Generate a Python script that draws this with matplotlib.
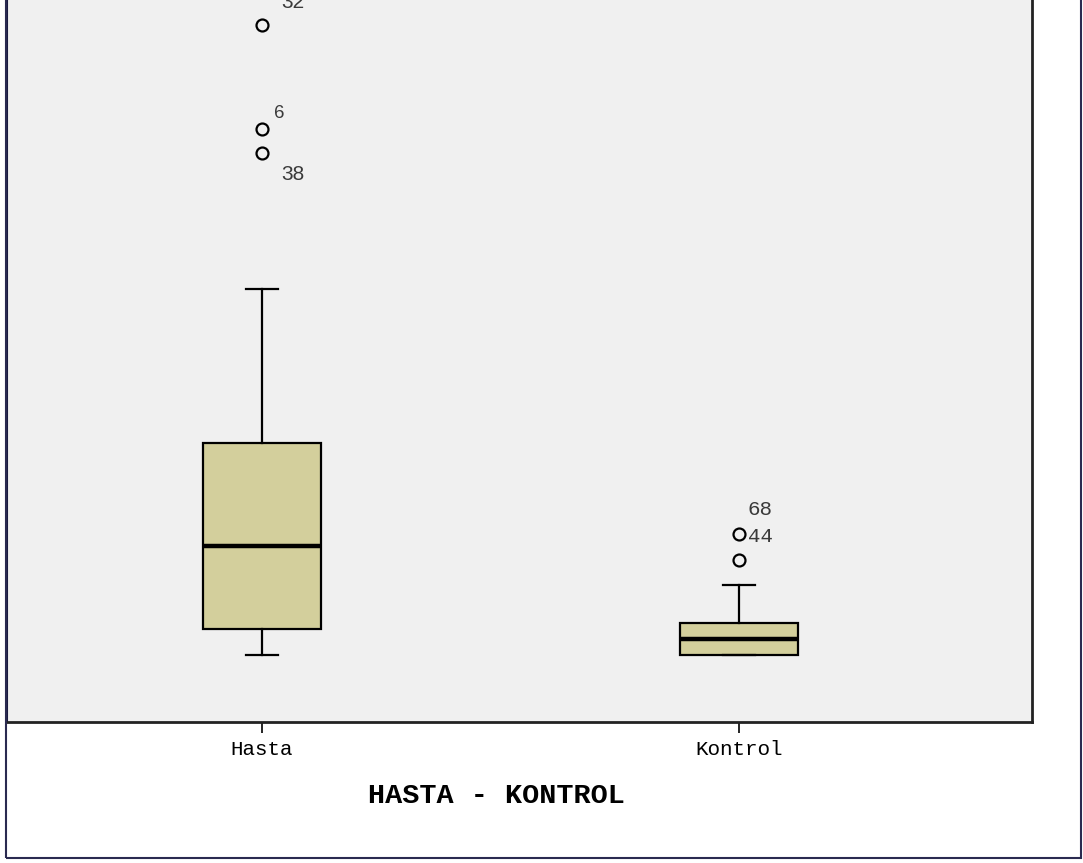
import matplotlib
matplotlib.use("Agg")
import matplotlib.pyplot as plt
from matplotlib.patches import Rectangle

# Data (arbitrary units)
categories = ["Hasta", "Kontrol"]
whislo = [6.7, 6.7]
q1 = [9.3, 6.7]
med = [17.6, 8.3]
q3 = [27.9, 9.9]
whishi = [43.3, 13.7]
fliers = [[56.9, 59.3, 69.7], [16.2, 18.8]]
flier_ids_hasta = ["38", "6", "32"]
flier_ids_kontrol = ["44", "68"]

W, H = 1083, 863
fig = plt.figure(figsize=(W / 100, H / 100), dpi=100)
fig.patch.set_facecolor("white")

ax = fig.add_axes([7 / W, (H - 722) / H, 1025 / W, 722 / H + 0.01])
ax.set_facecolor("#f0f0f0")

stats = []
for i, c in enumerate(categories):
    stats.append(dict(label=c, whislo=whislo[i], q1=q1[i], med=med[i],
                      q3=q3[i], whishi=whishi[i], fliers=fliers[i]))

positions = [1, 2]
ax.bxp(stats, positions=positions, widths=0.249, capwidths=0.067,
       patch_artist=True,
       boxprops=dict(facecolor="#d3cf9c", edgecolor="black", linewidth=1.6),
       medianprops=dict(color="black", linewidth=3.2),
       whiskerprops=dict(color="black", linewidth=1.6),
       capprops=dict(color="black", linewidth=1.6),
       flierprops=dict(marker="o", markerfacecolor="none",
                       markeredgecolor="black", markersize=8.6,
                       markeredgewidth=1.6))

ax.set_xlim(0.4654, 2.614)
ax.set_ylim(0, 72.2 + 0.01 * H / 10)

mono = "Liberation Mono"
sans = "Liberation Sans"
lab_col = "#3a3a3a"
# Hasta outlier labels
ax.text(1.04, 54.8, flier_ids_hasta[0], fontsize=15, family=sans, color=lab_col,
        va="center", ha="left")
ax.text(1.025, 60.9, flier_ids_hasta[1], fontsize=13.5, family=sans,
        color=lab_col, va="center", ha="left")
ax.text(1.04, 72.0, flier_ids_hasta[2], fontsize=15, family=sans, color=lab_col,
        va="center", ha="left")
# Kontrol outlier labels
ax.text(2.018, 18.5, flier_ids_kontrol[0], fontsize=15, family=mono,
        color=lab_col, va="center", ha="left")
ax.text(2.018, 21.25, flier_ids_kontrol[1], fontsize=15, family=mono,
        color=lab_col, va="center", ha="left")

ax.set_xticks(positions)
ax.set_xticklabels(categories, family=mono, fontsize=15)
ax.tick_params(axis="x", length=8, width=1.2, pad=5)
ax.set_yticks([])
ax.spines["top"].set_visible(False)
for s in ["bottom", "right"]:
    ax.spines[s].set_linewidth(2)
    ax.spines[s].set_color("#222222")
ax.spines["left"].set_linewidth(1.5)
ax.spines["left"].set_color("#1a1a40")

fig.text(496 / W, (H - 796) / H, "HASTA - KONTROL", family=mono,
         fontweight="bold", fontsize=20.5, ha="center", va="center")

# outer frame
fig.add_artist(Rectangle((6 / W, (H - 858) / H), 1075 / W, 1.0,
                         transform=fig.transFigure, fill=False,
                         edgecolor="#2a2a50", linewidth=1.5))

fig.savefig("out.png", dpi=100)
